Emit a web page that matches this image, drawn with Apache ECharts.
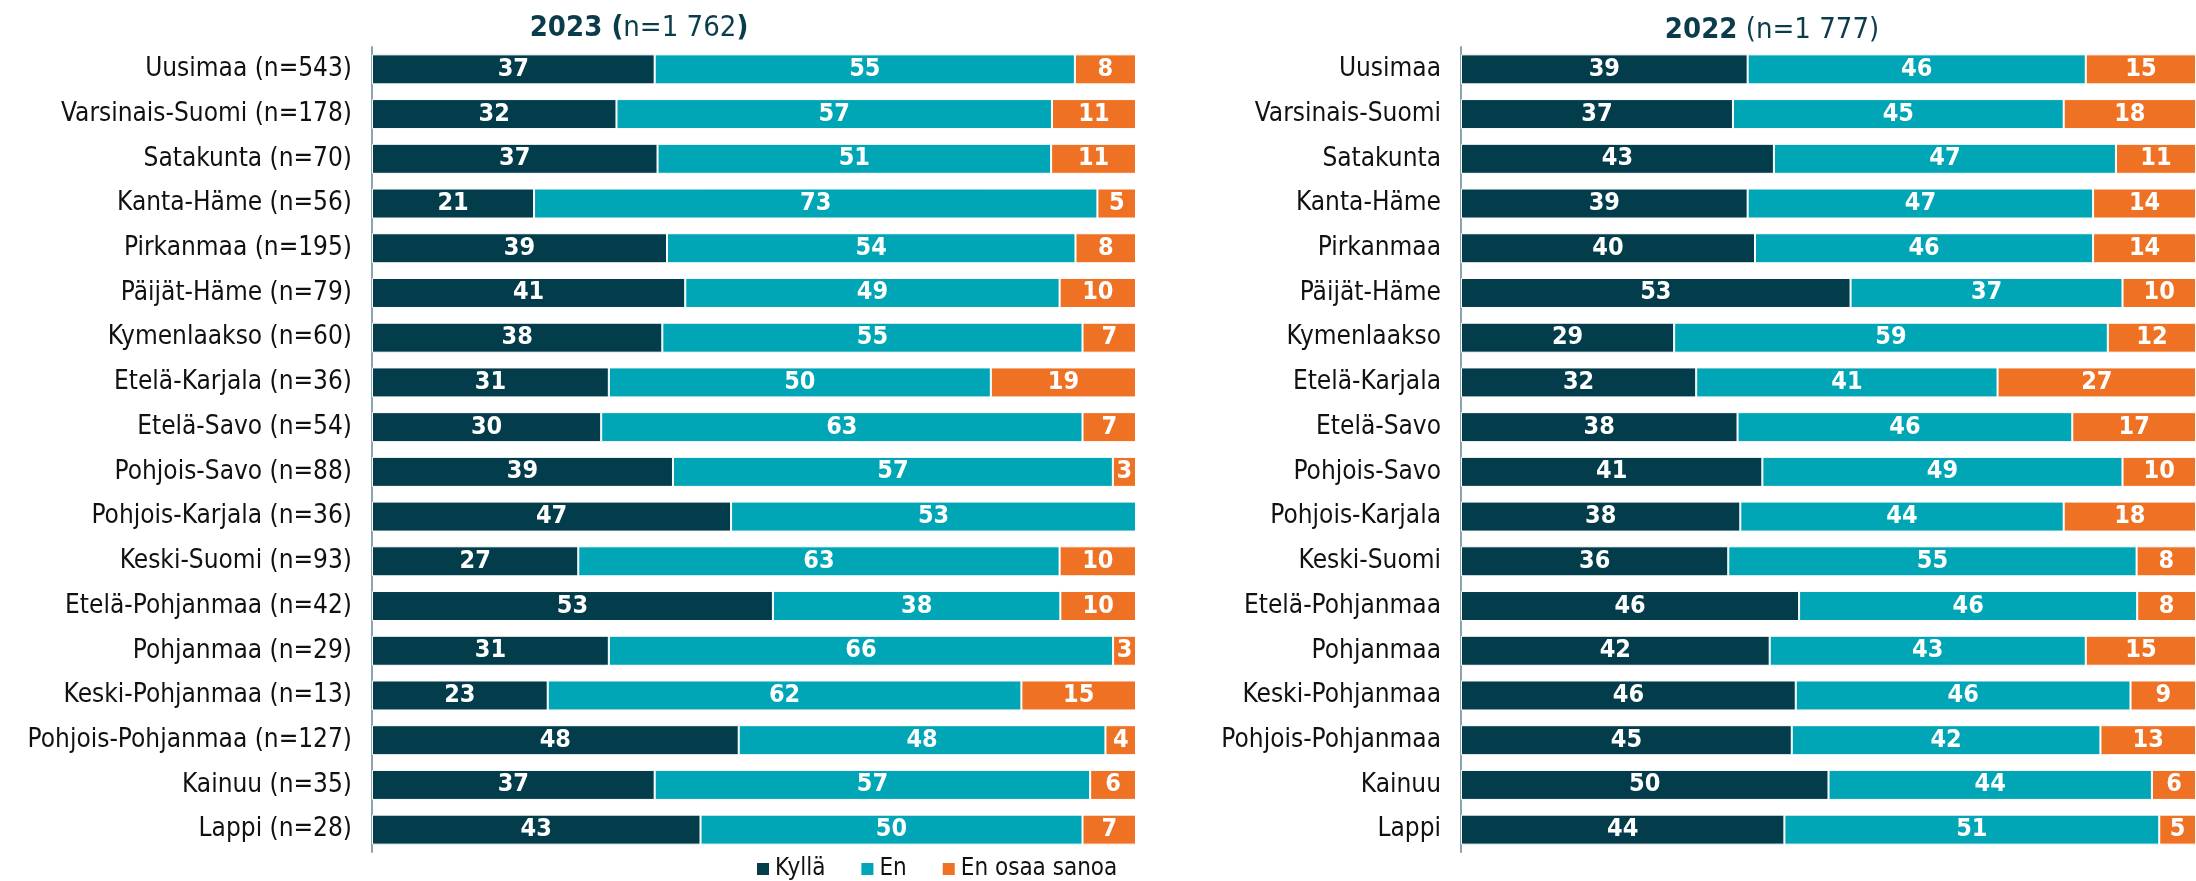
<!DOCTYPE html>
<html>
<head>
<meta charset="utf-8">
<script src="https://cdn.jsdelivr.net/npm/echarts@6/dist/echarts.min.js"></script>
<style>
  html, body { margin: 0; padding: 0; background: #fff; }
  #chart { width: 2196px; height: 881px; }
</style>
</head>
<body>
<div id="chart"></div>
<script>
// Alueet ja vastausjakaumat (%)
const regions = ['Uusimaa', 'Varsinais-Suomi', 'Satakunta', 'Kanta-Häme', 'Pirkanmaa', 'Päijät-Häme',
  'Kymenlaakso', 'Etelä-Karjala', 'Etelä-Savo', 'Pohjois-Savo', 'Pohjois-Karjala', 'Keski-Suomi',
  'Etelä-Pohjanmaa', 'Pohjanmaa', 'Keski-Pohjanmaa', 'Pohjois-Pohjanmaa', 'Kainuu', 'Lappi']
const n2023 = [543, 178, 70, 56, 195, 79, 60, 36, 54, 88, 36, 93, 42, 29, 13, 127, 35, 28]

const kylla2023 = [37, 32, 37, 21, 39, 41, 38, 31, 30, 39, 47, 27, 53, 31, 23, 48, 37, 43]
const en2023 = [55, 57, 51, 73, 54, 49, 55, 50, 63, 57, 53, 63, 38, 66, 62, 48, 57, 50]
const eos2023 = [8, 11, 11, 5, 8, 10, 7, 19, 7, 3, 0, 10, 10, 3, 15, 4, 6, 7]

const kylla2022 = [39, 37, 43, 39, 40, 53, 29, 32, 38, 41, 38, 36, 46, 42, 46, 45, 50, 44]
const en2022 = [46, 45, 47, 47, 46, 37, 59, 41, 46, 49, 44, 55, 46, 43, 46, 42, 44, 51]
const eos2022 = [15, 18, 11, 14, 14, 10, 12, 27, 17, 10, 18, 8, 8, 15, 9, 13, 6, 5]

const seriesNames = ['Kyllä', 'En', 'En osaa sanoa']
const colors = ['#033d4c', '#00a5b6', '#ef7124']
const FONT = "'DejaVu Sans Condensed', 'Noto Sans', sans-serif"

const chart = echarts.init(document.getElementById('chart'))

// 100 % pinottu: rivit skaalataan summaan, nimilappu näyttää pyöristetyn arvon
function stackSeries(groups, gridIdx) {
  return groups.map((vals, s) => ({
    name: seriesNames[s],
    type: 'bar',
    stack: 'y' + gridIdx,
    xAxisIndex: gridIdx,
    yAxisIndex: gridIdx,
    barWidth: 30,
    itemStyle: { color: colors[s], borderColor: '#fff', borderWidth: 1 },
    label: {
      show: true,
      position: 'inside',
      color: '#fff',
      fontFamily: FONT,
      fontWeight: 'bold',
      fontSize: 25,
      formatter: p => (vals[p.dataIndex] ? String(vals[p.dataIndex]) : '')
    },
    data: vals.map((v, i) => {
      const sum = groups[0][i] + groups[1][i] + groups[2][i]
      return v / sum * 100
    })
  }))
}

const yBase = {
  type: 'category',
  inverse: true,
  axisTick: { show: false },
  axisLine: { show: true, lineStyle: { color: '#8aa5ad', width: 2 } },
  axisLabel: { color: '#111', fontFamily: FONT, fontSize: 26, margin: 20 }
}
const xBase = { type: 'value', min: 0, max: 100, show: false }

const titleRich = {
  b: { fontFamily: FONT, fontSize: 29, fontWeight: 'bold', color: '#0b3c4c' },
  n: { fontFamily: FONT, fontSize: 29, fontWeight: 'normal', color: '#0b3c4c' }
}

const option = {
  backgroundColor: '#fff',
  animation: false,
  title: [
    {
      text: '{b|2023 (}{n|n=1 762}{b|)}',
      left: 634, top: 9, textAlign: 'center',
      textStyle: { rich: titleRich }
    },
    {
      text: '{b|2022}{n| (n=1 777)}',
      left: 1767, top: 11, textAlign: 'center',
      textStyle: { rich: titleRich }
    }
  ],
  legend: {
    data: seriesNames,
    left: 750, top: 852,
    icon: 'rect', itemWidth: 14, itemHeight: 14, itemGap: 34,
    textStyle: { fontFamily: FONT, fontSize: 24, color: '#111' }
  },
  grid: [
    { left: 372, width: 764, top: 47, height: 805 },
    { left: 1461, width: 735, top: 47, height: 805 }
  ],
  xAxis: [
    Object.assign({ gridIndex: 0 }, xBase),
    Object.assign({ gridIndex: 1 }, xBase)
  ],
  yAxis: [
    Object.assign({ gridIndex: 0, data: regions.map((r, i) => `${r} (n=${n2023[i]})`) }, yBase),
    Object.assign({ gridIndex: 1, data: regions }, yBase)
  ],
  series: [
    ...stackSeries([kylla2023, en2023, eos2023], 0),
    ...stackSeries([kylla2022, en2022, eos2022], 1)
  ]
}

chart.setOption(option)
</script>
</body>
</html>
